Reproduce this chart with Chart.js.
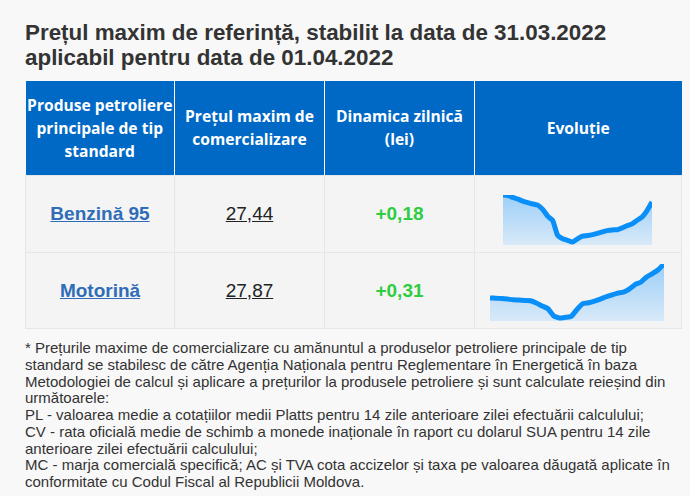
<!DOCTYPE html>
<html>
<head>
<meta charset="utf-8">
<script src="https://cdn.jsdelivr.net/npm/chart.js"></script>
<style>
  body { margin: 0; background: #f8f8f8; width: 690px; height: 496px; overflow: hidden; position: relative; }
  #title { position: absolute; left: 25px; top: 21px; font: bold 22.4px "Liberation Sans", Arial, sans-serif; line-height: 24.5px; color: #333; white-space: nowrap; }
  table { position: absolute; left: 25px; top: 81px; width: 656px; border-collapse: collapse; table-layout: fixed; }
  th { background: #0069c6; color: #fff; font: bold 15.6px "Open Sans", sans-serif; line-height: 23px; height: 94px; padding: 0; border-right: 1px solid #fff; text-align: center; }
  th:last-child { border-right: none; }
  td { background: #f4f4f4; border: 1px solid #e6e6e6; text-align: center; padding: 0; font-family: "Liberation Sans", Arial, sans-serif; }
  .prod a { color: #2f6db8; font-weight: bold; font-size: 19px; text-decoration: underline; }
  .pret a { color: #222; font-size: 19px; text-decoration: underline; }
  .din { color: #2ecc40; font-weight: bold; font-size: 19px; }
  .spark { position: absolute; }
  #note { position: absolute; left: 25px; top: 340px; font: 15px "Liberation Sans", Arial, sans-serif; line-height: 16.75px; color: #333; white-space: nowrap; }
</style>
</head>
<body>
<div id="title">Prețul maxim de referință, stabilit la data de 31.03.2022<br>aplicabil pentru data de 01.04.2022</div>
<table>
  <colgroup><col style="width:149px"><col style="width:150px"><col style="width:150px"><col style="width:207px"></colgroup>
  <tr>
    <th>Produse petroliere<br>principale de tip<br>standard</th>
    <th>Prețul maxim de<br>comercializare</th>
    <th>Dinamica zilnică<br>(lei)</th>
    <th>Evoluție</th>
  </tr>
  <tr style="height:77px">
    <td class="prod"><a>Benzină 95</a></td>
    <td class="pret"><a>27,44</a></td>
    <td class="din">+0,18</td>
    <td></td>
  </tr>
  <tr style="height:76px">
    <td class="prod"><a>Motorină</a></td>
    <td class="pret"><a>27,87</a></td>
    <td class="din">+0,31</td>
    <td></td>
  </tr>
</table>
<div class="spark" style="left:503px;top:195px;width:149px;height:50px"><canvas id="sparkBenzina"></canvas></div>
<div class="spark" style="left:490px;top:264px;width:174px;height:57px"><canvas id="sparkMotorina"></canvas></div>
<div id="note">* Prețurile maxime de comercializare cu amănuntul a produselor petroliere principale de tip<br>standard se stabilesc de către Agenția Naționala pentru Reglementare în Energetică în baza<br>Metodologiei de calcul și aplicare a prețurilor la produsele petroliere și sunt calculate reieșind din<br>următoarele:<br>PL - valoarea medie a cotațiilor medii Platts pentru 14 zile anterioare zilei efectuării calculului;<br>CV - rata oficială medie de schimb a monede inaționale în raport cu dolarul SUA pentru 14 zile<br>anterioare zilei efectuării calculului;<br>MC - marja comercială specifică; AC și TVA cota accizelor și taxa pe valoarea dăugată aplicate în<br>conformitate cu Codul Fiscal al Republicii Moldova.</div>
<script>
// zilele din martie 2022
var days = ['01.03','02.03','03.03','04.03','05.03','06.03','07.03','08.03','09.03','10.03',
  '11.03','12.03','13.03','14.03','15.03','16.03','17.03','18.03','19.03','20.03',
  '21.03','22.03','23.03','24.03','25.03','26.03','27.03','28.03','29.03','30.03','31.03'];

var benzina = [27.75, 27.72, 27.64, 27.57, 27.48, 27.41, 27.35, 27.30, 27.11, 26.81,
  26.62, 25.96, 25.81, 25.74, 25.66, 25.80, 25.92, 25.95, 25.99, 26.05,
  26.11, 26.17, 26.20, 26.21, 26.29, 26.39, 26.47, 26.63, 26.77, 27.06, 27.44];

var motorina = [26.40, 26.39, 26.37, 26.35, 26.32, 26.31, 26.29, 26.28, 26.18, 26.05,
  25.93, 25.62, 25.53, 25.56, 25.60, 25.90, 26.15, 26.19, 26.26, 26.35,
  26.45, 26.53, 26.61, 26.65, 26.78, 26.98, 27.08, 27.31, 27.45, 27.62, 27.87];

// limitele axei y (min, max)
var benzinaRange = [25.53, 27.75];
var motorinaRange = [25.40, 27.87];

function makeSpark(id, values, range) {
  var config = {
    type: 'line',
    data: {
      labels: days,
      datasets: [{
        data: values,
        borderColor: '#0a8ef7',
        borderWidth: 5,
        borderJoinStyle: 'round',
        pointRadius: 0,
        tension: 0.15,
        fill: 'start',
        clip: false,
        backgroundColor: function(ctx) {
          var area = ctx.chart.chartArea;
          if (!area) return 'rgba(120,190,245,0.5)';
          var g = ctx.chart.ctx.createLinearGradient(0, area.top, 0, area.bottom);
          g.addColorStop(0, '#9ccff8');
          g.addColorStop(1, '#d8e9f8');
          return g;
        }
      }]
    },
    options: {
      responsive: true,
      maintainAspectRatio: false,
      animation: false,
      layout: { padding: 0 },
      plugins: { legend: { display: false }, tooltip: { enabled: false } },
      scales: {
        x: { display: false, offset: false },
        y: { display: false, min: range[0], max: range[1] }
      }
    }
  };
  return new Chart(document.getElementById(id), config);
}

var benzinaChart = makeSpark('sparkBenzina', benzina, benzinaRange);
var motorinaChart = makeSpark('sparkMotorina', motorina, motorinaRange);
</script>
</body>
</html>
